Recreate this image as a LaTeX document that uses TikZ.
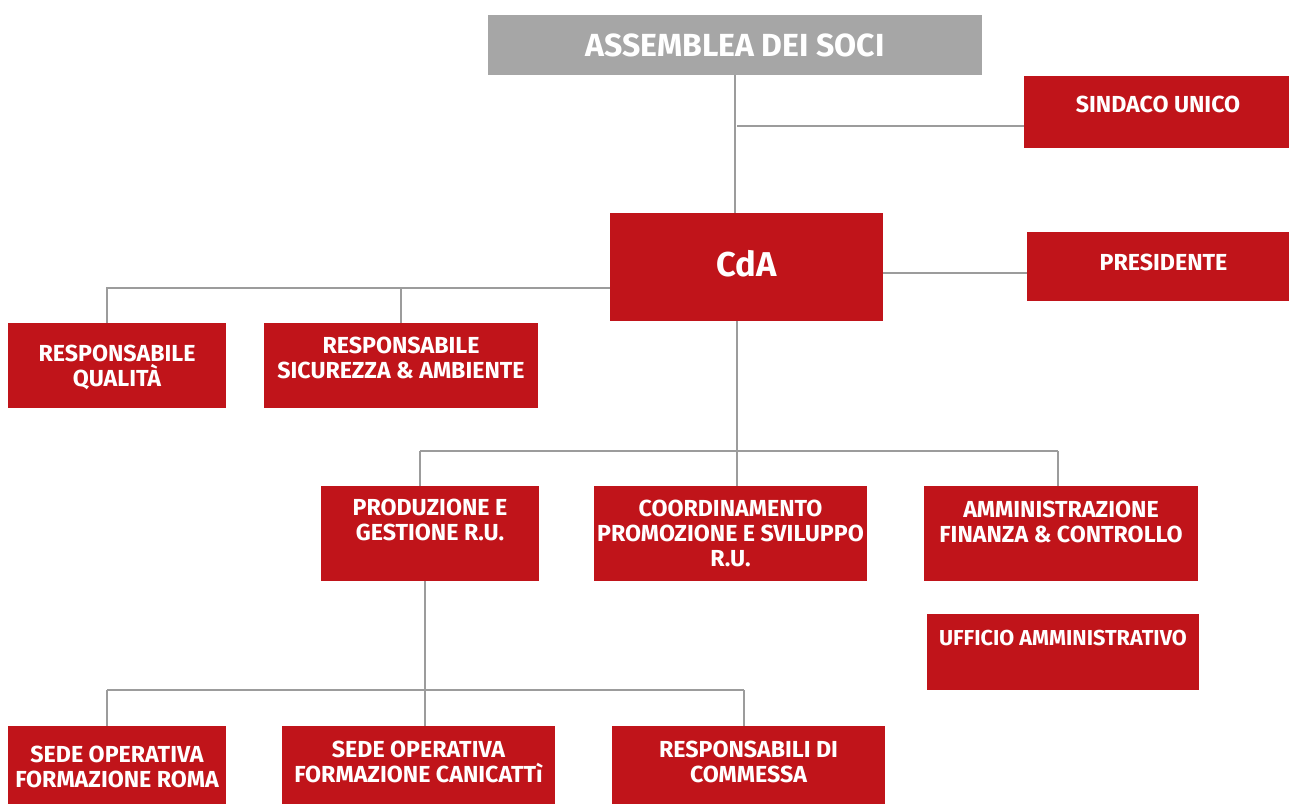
\documentclass[tikz,border=0pt]{standalone}
\usepackage{fontspec}
\setmainfont{Fira Sans}
\usepackage{xcolor}
\definecolor{boxred}{HTML}{C0141A}
\definecolor{boxgray}{HTML}{A6A6A6}
\definecolor{linegray}{HTML}{9C9C9C}

\begin{document}
\begin{tikzpicture}[x=0.2mm, y=0.2mm, font=\bfseries\fontsize{13.2}{14.2}\selectfont, align=center]
	\tikzset{box/.style={fill=boxred, text=white, inner sep=0pt},
	         txt/.style={text=white, align=center, inner sep=0pt, font=\bfseries\fontsize{13.2}{14.2}\selectfont},
	         link/.style={draw=linegray, line width=1.1pt}}
	\useasboundingbox (0,0) rectangle (1289,-803);

	% top
	\node[box, fill=boxgray, minimum width=98.8mm, minimum height=12mm,
	      font=\bfseries\fontsize{18.2}{20}\selectfont] (soci) at (735,-45) {ASSEMBLEA DEI SOCI};
	\node[box, minimum width=53.6mm, minimum height=14.4mm,
	      label={[txt, yshift=1.6mm]center:SINDACO UNICO}] (sindaco) at (1158,-112) {};
	\node[box, minimum width=54.6mm, minimum height=21.6mm,
	      label={[txt, yshift=0.6mm, font=\bfseries\fontsize{19.6}{21}\selectfont]center:CdA}] (cda) at (746.5,-267) {};
	\node[box, minimum width=53mm, minimum height=13.8mm,
	      label={[txt, yshift=0.9mm, xshift=0.8mm]center:PRESIDENTE}] (presidente) at (1159.5,-266.5) {};

	% staff
	\node[box, minimum width=43.6mm, minimum height=17mm,
	      label={[txt, yshift=-0.3mm]center:RESPONSABILE\\QUALITÀ}] (qualita) at (117,-365.5) {};
	\node[box, minimum width=54.8mm, minimum height=17mm,
	      label={[txt, yshift=1.5mm]center:RESPONSABILE\\SICUREZZA \& AMBIENTE}] (sicurezza) at (401,-365.5) {};

	% areas
	\node[box, minimum width=43.6mm, minimum height=19mm,
	      label={[txt, yshift=2.7mm]center:PRODUZIONE E\\GESTIONE R.U.}] (produzione) at (430,-533.5) {};
	\node[box, minimum width=54.6mm, minimum height=19mm,
	      label={[txt]center:COORDINAMENTO\\PROMOZIONE E SVILUPPO\\R.U.}] (coordinamento) at (730.5,-533.5) {};
	\node[box, minimum width=54.8mm, minimum height=19mm,
	      label={[txt, yshift=2.3mm]center:AMMINISTRAZIONE\\FINANZA \& CONTROLLO}] (amministrazione) at (1061,-533.5) {};
	\node[box, minimum width=54.4mm, minimum height=15.2mm,
	      label={[txt, yshift=2.8mm, font=\bfseries\fontsize{12.3}{14}\selectfont]center:UFFICIO AMMINISTRATIVO}] (ufficio) at (1063,-652) {};

	% sedi
	\node[box, minimum width=43.6mm, minimum height=16mm,
	      label={[txt, yshift=-0.2mm]center:SEDE OPERATIVA\\FORMAZIONE ROMA}] (roma) at (117,-766) {};
	\node[box, minimum width=54.6mm, minimum height=16mm,
	      label={[txt, yshift=0.8mm]center:SEDE OPERATIVA\\FORMAZIONE CANICATTì}] (canicatti) at (418.5,-766) {};
	\node[box, minimum width=54.6mm, minimum height=16mm,
	      label={[txt, yshift=0.8mm]center:RESPONSABILI DI\\COMMESSA}] (commessa) at (748.5,-766) {};

	% bus points
	\coordinate (spine) at (737,-126);
	\coordinate (lbus) at (610,-288);
	\coordinate (cbus) at (737,-451);
	\coordinate (sbus) at (425,-690);

	\draw[link] (soci.south) -- (soci.south |- cda.north);
	\draw[link] (spine) -- (spine -| sindaco.west);
	\draw[link] (cda.east |- 0,-273) -- (presidente.west |- 0,-273);
	\draw[link] (lbus) -- (107,-288) -- (107,-323);
	\draw[link] (sicurezza.north |- lbus) -- (sicurezza.north);
	\draw[link] (cbus |- cda.south) -- (cbus);
	\draw[link] (420,-451) -- (1058,-451);
	\draw[link] (420,-451) -- (420,-486);
	\draw[link] (cbus) -- (cbus |- coordinamento.north);
	\draw[link] (1058,-451) -- (1058,-486);
	\draw[link] (sbus |- produzione.south) -- (sbus);
	\draw[link] (107,-690) -- (744,-690);
	\draw[link] (107,-690) -- (107,-726);
	\draw[link] (sbus) -- (sbus |- canicatti.north);
	\draw[link] (744,-690) -- (744,-726);
\end{tikzpicture}
\end{document}
